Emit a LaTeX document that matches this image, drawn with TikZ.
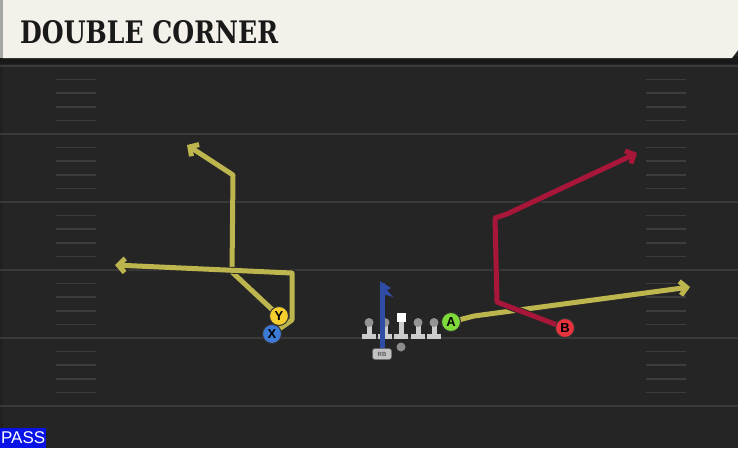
\documentclass[tikz,border=0pt]{standalone}
\usepackage{fontspec}
\usepackage{xcolor}
\usetikzlibrary{arrows.meta,positioning}
\newfontfamily\titlefont{DejaVu Serif}
\newfontfamily\labelfont{Liberation Sans}

\definecolor{fieldbg}{HTML}{252525}
\definecolor{yardgrey}{HTML}{3A3A3A}
\definecolor{hashgrey}{HTML}{3C3C3C}
\definecolor{headcream}{HTML}{F4F1EA}
\definecolor{routeyellow}{HTML}{BDB64E}
\definecolor{routered}{HTML}{A8163A}
\definecolor{routeblue}{HTML}{2F4DA6}
\definecolor{ycircle}{HTML}{F5CF2E}
\definecolor{xcircle}{HTML}{3C7AD6}
\definecolor{acircle}{HTML}{7FDB3A}
\definecolor{bcircle}{HTML}{E8333F}
\definecolor{passblue}{HTML}{0A14E6}

\tikzset{
  yardline/.style={draw=yardgrey, line width=2pt},
  hashline/.style={draw=hashgrey, line width=1.6pt},
  route/.style={draw=#1, line width=5pt, line join=round,
    -{Straight Barb[length=6.5pt,width=14pt]},
    preaction={draw=black!85, line width=6.8pt}},
  player/.style={circle, fill=#1, draw=black!80, line width=1pt,
    minimum size=19pt, inner sep=0pt, font=\labelfont\bfseries\fontsize{13}{13}\selectfont},
  lineman/.style={fill=black!20},
}

\begin{document}
\begin{tikzpicture}[x=1pt,y=-1pt]
\useasboundingbox (0,0) rectangle (738,448);
\fill[fieldbg] (0,0) rectangle (738,448);
\fill[black!14!fieldbg] (0,60) rectangle (3,448);

% yard lines and hashes
\foreach \y in {66,134,202,270,338,406}
  \draw[yardline] (0,\y) -- (738,\y);
\foreach \y in {66,134,202,270,338}
  \foreach \k in {1,...,4} {
    \draw[hashline] (56,{\y+13.6*\k}) -- (96,{\y+13.6*\k});
    \draw[hashline] (646,{\y+13.6*\k}) -- (686,{\y+13.6*\k});
  }

% header
\fill[black!90] (0,56) rectangle (738,64);
\fill[headcream] (3,0) -- (738,0) -- (738,50) -- (732,58) -- (3,58) -- cycle;
\fill[black!35] (0,0) rectangle (3,58);
\node[anchor=base west, inner sep=0pt, xscale=0.81, text=black!90,
  font=\titlefont\bfseries\fontsize{31}{31}\selectfont] (title) at (20,43) {DOUBLE CORNER};

% players
\coordinate (Y) at (279,316);
\coordinate (X) at (272,334);
\coordinate (A) at (451,322);
\coordinate (B) at (565,328);
\coordinate (RB) at (382,354);

\coordinate (y1) at (232,272);
\coordinate (y2) at (233,175);
\coordinate (y3) at (187,145);
\coordinate (x1) at (292,320);
\coordinate (x2) at (292,273);
\coordinate (x3) at (115,265);
\coordinate (a1) at (474,316);
\coordinate (a2) at (690,287);
\coordinate (b1) at (497,302);
\coordinate (b2) at (495,218);
\coordinate (b3) at (507,214);
\coordinate (b4) at (637,153);

\draw[route=routeyellow] (Y) -- (y1) -- (y2) -- (y3);
\draw[route=routeyellow] (X) -- (x1) -- (x2) -- (x3);
\draw[route=routeyellow] (A) -- (a1) -- (a2);
\draw[route=routered] (B) -- (b1) -- (b2) -- (b3) -- (b4);

% line
\foreach \x in {369,385,418,434} {
  \fill[lineman] (\x-7,334) rectangle (\x+7,339);
  \fill[lineman] (\x-2.5,324) rectangle (\x+2.5,335);
  \fill[black!42] (\x,322.5) circle (4.5);
}
\fill[lineman] (394,334) rectangle (408,339);
\fill[lineman] (398.5,321) rectangle (403.5,335);
\fill[white] (396.5,313) rectangle (405.5,322);
\fill[black!45] (401,347) circle (4.5);

% RB block
\coordinate (rbtop) at (382,283);
\draw[routeblue, line width=5pt] (RB) -- (rbtop);
\fill[routeblue] (379.5,281) -- (391,288) -- (387,290) -- (393,297) -- (383,294) -- cycle;
\node[fill=black!24, draw=black!60, line width=0.5pt, rounded corners=2.5pt,
  minimum width=19pt, minimum height=11pt, inner sep=0pt,
  font=\labelfont\bfseries\fontsize{6}{6}\selectfont, text=black!65] (rbtag) at (RB) {RB};

\node[player=ycircle] (ynode) at (Y) {Y};
\node[player=xcircle] (xnode) at (X) {X};
\node[player=acircle] (anode) at (A) {A};
\node[player=bcircle] (bnode) at (B) {B};

% play type
\node[fill=passblue, text=white, anchor=south west, minimum width=46pt, minimum height=20pt,
  inner sep=0pt, font=\labelfont\fontsize{17}{17}\selectfont] (pass) at (0,448) {PASS};
\end{tikzpicture}
\end{document}
